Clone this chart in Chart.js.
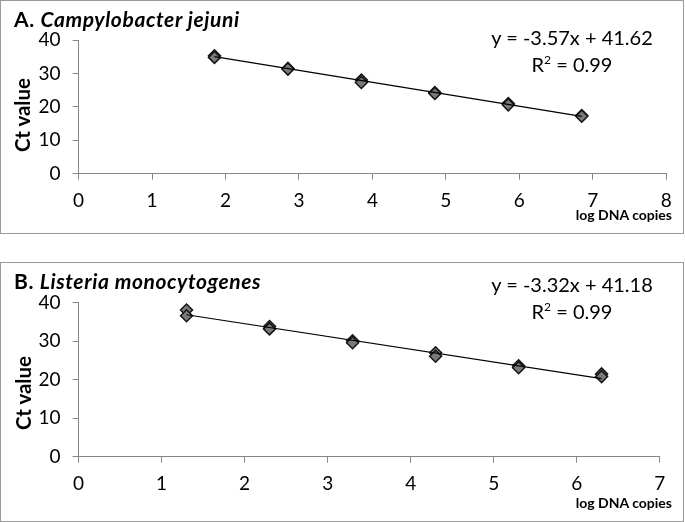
<!DOCTYPE html>
<html>
<head>
<meta charset="utf-8">
<script src="https://cdn.jsdelivr.net/npm/chart.js@4.4.0/dist/chart.umd.min.js"></script>
<style>
  html, body { margin: 0; padding: 0; background: #fff; }
  body { width: 685px; height: 522px; position: relative; overflow: hidden; font-family: Lato, sans-serif; color: #000; }
  .panel { position: absolute; left: 0; width: 684px; border: 1px solid #9a9a9a; box-sizing: border-box; }
  .panel canvas { position: absolute; left: 0; top: 0; }
  .txt { position: absolute; white-space: nowrap; line-height: 1.2; }
  .title { font-size: 21px; font-weight: bold; left: 14px; letter-spacing: 0.6px; }
  .eq { font-size: 20px; width: 200px; left: 472px; text-align: center; }
  .eq sup { font-size: 12px; line-height: 0; vertical-align: 8px; }
  .xlab { font-size: 14px; font-weight: bold; right: 13px; }
  .ylab { font-size: 20.5px; font-weight: bold; line-height: 1; transform: translate(-50%, -50%) rotate(-90deg); }
</style>
</head>
<body>

<div class="panel" style="top:0; height:234px;"><canvas id="chartA" width="682" height="232"></canvas></div>
<div class="panel" style="top:262px; height:260px;"><canvas id="chartB" width="682" height="258"></canvas></div>

<div class="txt title" style="top:6px;">A. <i>Campylobacter jejuni</i></div>
<div class="txt eq" style="top:24.5px;">y = -3.57x + 41.62</div>
<div class="txt eq" style="top:52px;">R<sup>2</sup> = 0.99</div>
<div class="txt xlab" style="top:207px;">log DNA copies</div>
<div class="txt ylab" style="left:22px; top:115px;">Ct value</div>

<div class="txt title" style="top:268px;">B. <i>Listeria monocytogenes</i></div>
<div class="txt eq" style="top:272px;">y = -3.32x + 41.18</div>
<div class="txt eq" style="top:299px;">R<sup>2</sup> = 0.99</div>
<div class="txt xlab" style="top:495px;">log DNA copies</div>
<div class="txt ylab" style="left:23px; top:393px;">Ct value</div>

<script>
// A. Campylobacter jejuni - two replicate Ct readings per dilution
const logCopiesA = [1.85, 2.85, 3.85, 4.85, 5.85, 6.85];
const ctA_rep1 = [35.3, 31.5, 28.0, 24.3, 21.0, 17.4];
const ctA_rep2 = [34.8, 31.3, 27.3, 24.0, 20.6, 17.2];
const slopeA = -3.57;
const interceptA = 41.62;
const xMaxA = 8;

// B. Listeria monocytogenes
const logCopiesB = [1.3, 2.3, 3.3, 4.3, 5.3, 6.3];
const ctB_rep1 = [38.1, 33.8, 30.1, 27.0, 23.6, 21.5];
const ctB_rep2 = [36.6, 33.2, 29.6, 26.1, 23.1, 20.8];
const slopeB = -3.32;
const interceptB = 41.18;
const xMaxB = 7;

const yMax = 40;
const yStep = 10;

Chart.defaults.font.family = "Lato, sans-serif";

const axisGray = '#868686';

function buildChart(id, xs, rep1, rep2, slope, intercept, xMax, box) {
    // replicate points
    const points = [];
    xs.forEach((x, i) => {
        points.push({ x: x, y: rep1[i] });
        points.push({ x: x, y: rep2[i] });
    });

    // linear trendline over the data range
    const x0 = Math.min(...xs);
    const x1 = Math.max(...xs);
    const trend = [
        { x: x0, y: slope * x0 + intercept },
        { x: x1, y: slope * x1 + intercept }
    ];

    new Chart(document.getElementById(id), {
        type: 'scatter',
        data: {
            datasets: [
                { type: 'line', data: trend, borderColor: '#000', borderWidth: 1.2, pointRadius: 0, fill: false },
                {
                    data: points,
                    pointStyle: 'rectRot',
                    pointRadius: 6,
                    pointBackgroundColor: '#7a7a7a',
                    pointBorderColor: '#151515',
                    pointBorderWidth: 1.5
                }
            ]
        },
        options: {
            responsive: false,
            animation: false,
            layout: { padding: { top: box.top, right: box.right, left: 0, bottom: 0 } },
            plugins: { legend: { display: false }, tooltip: { enabled: false } },
            scales: {
                x: {
                    type: 'linear',
                    min: 0,
                    max: xMax,
                    ticks: { stepSize: 1, color: '#000', padding: 10, font: { size: 19 } },
                    grid: { drawOnChartArea: false, tickLength: 6, color: axisGray },
                    border: { color: axisGray },
                    afterFit: s => { s.height = box.xh; }
                },
                y: {
                    min: 0,
                    max: yMax,
                    ticks: { stepSize: yStep, color: '#000', padding: 12, font: { size: 19 } },
                    grid: { drawOnChartArea: false, tickLength: 6, color: axisGray },
                    border: { color: axisGray },
                    afterFit: s => { s.width = box.yw; }
                }
            }
        }
    });
}

buildChart('chartA', logCopiesA, ctA_rep1, ctA_rep2, slopeA, interceptA, xMaxA,
    { top: 39, right: 16.8, xh: 59.3, yw: 77.6 });
buildChart('chartB', logCopiesB, ctB_rep1, ctB_rep2, slopeB, interceptB, xMaxB,
    { top: 39.7, right: 23.3, xh: 64.3, yw: 77.6 });
</script>
</body>
</html>
